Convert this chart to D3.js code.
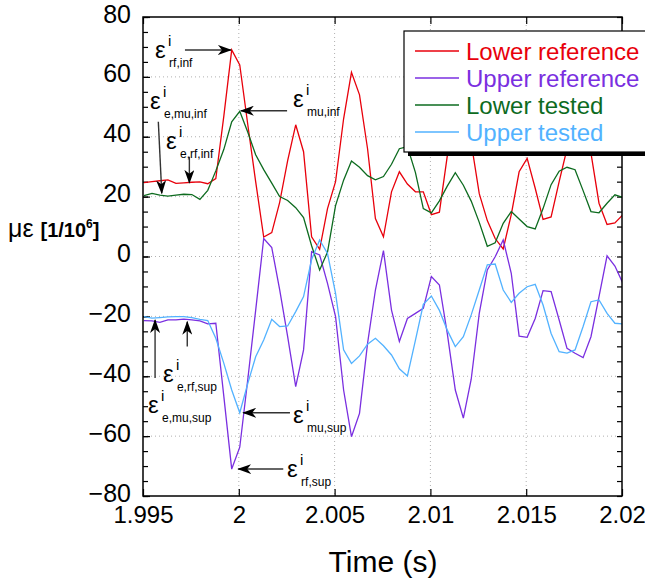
<!doctype html>
<html lang="en">
<head>
<meta charset="utf-8">
<title>Strain signals around impact</title>
<style>
  body { margin: 0; background: #fff; }
  svg { display: block; font-family: "Liberation Sans", Arial, sans-serif; }
  .grid line { stroke: #b0b0b0; stroke-dasharray: 1,3; }
  .axis path { display: none; }
  .axis line { stroke: #000; stroke-width: 1.2px; }
  .series { fill: none; stroke-width: 1.3px; }
  .arrow { stroke: #333; stroke-width: 1.4px; }
</style>
</head>
<body>
<svg width="645" height="581"></svg>
<script src="https://d3js.org/d3.v7.min.js"></script>
<script>

// sample times (s), 2400 Hz
var time = [1.99505, 1.99547, 1.99588, 1.99630, 1.99672, 1.99713, 1.99755, 1.99797, 1.99838, 1.99880,
            1.99922, 1.99963, 2.00005, 2.00047, 2.00088, 2.00130, 2.00172, 2.00213, 2.00255, 2.00297,
            2.00338, 2.00380, 2.00422, 2.00463, 2.00505, 2.00547, 2.00588, 2.00630, 2.00672, 2.00713,
            2.00755, 2.00797, 2.00838, 2.00880, 2.00922, 2.00963, 2.01005, 2.01047, 2.01088, 2.01130,
            2.01172, 2.01213, 2.01255, 2.01297, 2.01338, 2.01380, 2.01422, 2.01463, 2.01505, 2.01547,
            2.01588, 2.01630, 2.01672, 2.01713, 2.01755, 2.01797, 2.01838, 2.01880, 2.01922, 2.01963,
            2.02005];

var lowerRef = [24.7, 25.0, 25.3, 25.6, 24.4, 24.6, 24.8, 24.9, 24.3, 26.0,
                47, 69, 64, 44, 25, 6.5, 8, 18, 32, 44,
                35, 6.6, 2.4, 16, 25, 46, 61.5, 54, 36, 12.7,
                6.6, 21.6, 28.3, 24.2, 21.6, 21.6, 14, 14.8, 33.5, 45,
                47, 38, 21, 12, 6, 2.5, 14, 28.3, 32.8, 22.8,
                12.4, 13.2, 25, 36, 43, 45, 34.5, 17.8, 10.7, 11.2,
                14];

var upperRef = [-21.4, -21.5, -22, -21.2, -21.2, -20.9, -21.2, -21.5, -22.5, -22.3,
                -46.8, -71, -63.7, -41, -18, 6, 3, -11, -26.8, -43.5,
                -31.2, 1.6, 0.5, -9, -20.1, -44.6, -60.2, -52.4, -29, -11.2,
                2, -17.9, -28.4, -20.7, -19, -17.3, -6.7, -9.5, -25.7, -44.6,
                -54, -41, -19, -4.5, -0.1, 5.5, -5.6, -26.6, -27, -20.7,
                -11.4, -11.7, -21.2, -30.7, -32.3, -33.8, -26.8, -13.4, 0.2, -3.2,
                -9];

var lowerTested = [20.3, 21.1, 20.5, 20.2, 20.5, 20.8, 20.7, 19.1, 22.1, 28.6,
                   35.8, 45, 48.5, 41.5, 34, 29, 24.5, 20, 18.7, 16.3,
                   13, 3.6, -4.5, 1.5, 17, 25.5, 31.9, 29.8, 27, 25.6,
                   26.7, 30.8, 36, 36.7, 28, 16, 14.6, 18.6, 23.5, 28,
                   23.8, 18.5, 11.4, 3.4, 4.6, 11.1, 15, 12.5, 10, 9.2,
                   16, 24, 28.5, 29.8, 29, 22, 15, 14.6, 17.8, 20.6,
                   19.7];

var upperTested = [-20.1, -20.6, -20.4, -20.2, -20.1, -20.1, -20.4, -21, -21.4, -27.3,
                   -35.7, -44.6, -52.2, -42.4, -33.5, -27.9, -21, -23.4, -23.2, -18.4,
                   -13.4, -1, 5.5, 1, -12.3, -31.2, -35.7, -33.2, -29.3, -27.3,
                   -29.8, -32.9, -37.5, -39.9, -27.9, -16, -13.2, -18, -24.6, -30.1,
                   -26.8, -19.5, -11.2, -2.8, -2.5, -11.2, -15.3, -12.3, -10.1, -9.3,
                   -16.2, -25.7, -31.8, -32.3, -31.2, -23.4, -15.1, -14.5, -19, -22.3,
                   -22.5];

var seriesNames = ["Lower reference", "Upper reference", "Lower tested", "Upper tested"];
var seriesColors = ["#e8000b", "#7a2fe0", "#0d6b1f", "#52b2ff"];

var xTicks = [1.995, 2, 2.005, 2.01, 2.015, 2.02];
var yTicks = [-80, -60, -40, -20, 0, 20, 40, 60, 80];
var yMinorTicks = d3.range(-80, 81, 5);

// arrows and labels, in data units: label anchor, arrow tail, arrow tip
var notes = [
  {sub: "rf,inf",    at: [1.99563, 66.3],  from: [1.99719, 69],    to: [1.99959, 69]},
  {sub: "mu,inf",    at: [2.00283, 49.8],  from: [2.00252, 48.7],  to: [2.00011, 48.7]},
  {sub: "e,mu,inf",  at: [1.99537, 49.3],  from: [1.99580, 45],    to: [1.99598, 21.1]},
  {sub: "e,rf,inf",  at: [1.99620, 36.0],  from: [1.99742, 33.3],  to: [1.99742, 24.6]},
  {sub: "e,rf,sup",  at: [1.99604, -41.9], from: [1.99731, -30.1], to: [1.99731, -21.8]},
  {sub: "e,mu,sup",  at: [1.99526, -52.3], from: [1.99563, -40.6], to: [1.99563, -21.2]},
  {sub: "mu,sup",    at: [2.00283, -55.6], from: [2.00267, -52.2], to: [2.00023, -52.2]},
  {sub: "rf,sup",    at: [2.00252, -73.6], from: [2.00232, -71],   to: [1.99997, -71]}
];

var svg = d3.select("svg"),
    margin = {top: 17, right: 23, bottom: 85, left: 143},
    width = +svg.attr("width") - margin.left - margin.right,
    height = +svg.attr("height") - margin.top - margin.bottom;

var g = svg.append("g").attr("transform", "translate(" + margin.left + "," + margin.top + ")");

var x = d3.scaleLinear().domain([1.995, 2.02]).range([0, width]);
var y = d3.scaleLinear().domain([-80, 80]).range([height, 0]);

svg.append("defs").append("clipPath").attr("id", "plotclip")
  .append("rect").attr("width", width).attr("height", height);

svg.select("defs").append("marker")
    .attr("id", "head")
    .attr("viewBox", "0 -5 14 10")
    .attr("refX", 13)
    .attr("refY", 0)
    .attr("markerWidth", 14)
    .attr("markerHeight", 10)
    .attr("markerUnits", "userSpaceOnUse")
    .attr("orient", "auto")
  .append("path")
    .attr("d", "M0,-5L14,0L0,5L4,0Z")
    .attr("fill", "#000");

// dotted grid
var grid = g.append("g").attr("class", "grid");
grid.selectAll(".gx").data(xTicks.slice(1, -1)).enter().append("line")
    .attr("x1", function(d) { return x(d); }).attr("x2", function(d) { return x(d); })
    .attr("y1", 0).attr("y2", height);
grid.selectAll(".gy").data(yTicks.slice(1, -1)).enter().append("line")
    .attr("y1", function(d) { return y(d); }).attr("y2", function(d) { return y(d); })
    .attr("x1", 0).attr("x2", width);

// axes, ticks inward
var fmt = function(d) { return String(+d.toFixed(3)); };

g.append("g").attr("class", "axis")
    .attr("transform", "translate(0," + height + ")")
    .call(d3.axisBottom(x).tickValues(xTicks).tickSize(-7).tickPadding(10).tickFormat(fmt))
    .selectAll("text").style("font-size", "24px").attr("fill", "#000");

g.append("g").attr("class", "axis")
    .call(d3.axisTop(x).tickValues(xTicks).tickSize(-7).tickFormat(""));

g.append("g").attr("class", "axis")
    .call(d3.axisLeft(y).tickValues(yTicks).tickSize(-7).tickPadding(12).tickFormat(d3.format("d")))
    .selectAll("text").style("font-size", "25px").attr("fill", "#000").attr("dy", "0.2em");

g.append("g").attr("class", "axis")
    .call(d3.axisLeft(y).tickValues(yMinorTicks).tickSize(-5).tickFormat(""));

g.append("g").attr("class", "axis")
    .attr("transform", "translate(" + width + ",0)")
    .call(d3.axisRight(y).tickValues(yMinorTicks).tickSize(-5).tickFormat(""));

// lines
var line = d3.line()
    .x(function(d, i) { return x(time[i]); })
    .y(function(d) { return y(d); });

var plot = g.append("g").attr("clip-path", "url(#plotclip)");
[lowerRef, upperRef, lowerTested, upperTested].forEach(function(s, k) {
  plot.append("path").datum(s)
      .attr("class", "series")
      .attr("stroke", seriesColors[k])
      .attr("d", line);
});

// frame
g.append("rect").attr("width", width).attr("height", height)
    .attr("fill", "none").attr("stroke", "#000").attr("stroke-width", 1.5);

// annotations
var ann = g.append("g");
notes.forEach(function(n) {
  ann.append("line").attr("class", "arrow")
      .attr("x1", x(n.from[0])).attr("y1", y(n.from[1]))
      .attr("x2", x(n.to[0])).attr("y2", y(n.to[1]))
      .attr("marker-end", "url(#head)");
  var lx = x(n.at[0]), ly = y(n.at[1]);
  ann.append("text").attr("x", lx).attr("y", ly).style("font-size", "24px").text("ε");
  ann.append("text").attr("x", lx + 13).attr("y", ly - 12).style("font-size", "15px").text("i");
  ann.append("text").attr("x", lx + 14).attr("y", ly + 9).style("font-size", "12px").text(n.sub);
});

// legend (drawn over the plot, with a drop shadow)
var leg = svg.append("g").attr("transform", "translate(404,31)");
leg.append("rect").attr("x", 4).attr("y", 4).attr("width", 260).attr("height", 121).attr("fill", "#000");
leg.append("rect").attr("width", 260).attr("height", 121).attr("fill", "#fff")
    .attr("stroke", "#000").attr("stroke-width", 1.2);
seriesNames.forEach(function(name, k) {
  var ly = 20 + k * 27;
  leg.append("line").attr("x1", 11).attr("x2", 55).attr("y1", ly).attr("y2", ly)
      .attr("stroke", seriesColors[k]).attr("stroke-width", 1.3);
  leg.append("text").attr("x", 62).attr("y", ly + 9)
      .attr("fill", seriesColors[k]).style("font-size", "24px").text(name);
});

// axis titles
svg.append("text").attr("x", 383).attr("y", 572).attr("text-anchor", "middle")
    .style("font-size", "30px").text("Time (s)");

var yl = svg.append("text").attr("x", 8).attr("y", 237);
yl.append("tspan").style("font-size", "25px").text("με ");
yl.append("tspan").style("font-size", "20px").style("font-weight", "bold").text("[1/10");
yl.append("tspan").style("font-size", "12px").style("font-weight", "bold").attr("dy", -9).text("6");
yl.append("tspan").style("font-size", "20px").style("font-weight", "bold").attr("dy", 9).text("]");

</script>
</body>
</html>
